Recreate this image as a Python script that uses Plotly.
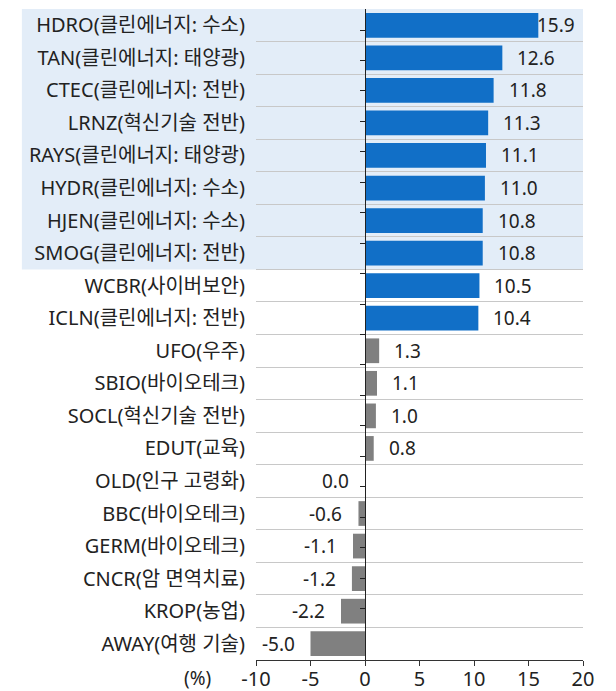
import plotly.graph_objects as go

# ETF (theme) and weekly return, top to bottom
labels = [
    "HDRO(클린에너지: 수소)",
    "TAN(클린에너지: 태양광)",
    "CTEC(클린에너지: 전반)",
    "LRNZ(혁신기술 전반)",
    "RAYS(클린에너지: 태양광)",
    "HYDR(클린에너지: 수소)",
    "HJEN(클린에너지: 수소)",
    "SMOG(클린에너지: 전반)",
    "WCBR(사이버보안)",
    "ICLN(클린에너지: 전반)",
    "UFO(우주)",
    "SBIO(바이오테크)",
    "SOCL(혁신기술 전반)",
    "EDUT(교육)",
    "OLD(인구 고령화)",
    "BBC(바이오테크)",
    "GERM(바이오테크)",
    "CNCR(암 면역치료)",
    "KROP(농업)",
    "AWAY(여행 기술)",
]
returns = [15.9, 12.6, 11.8, 11.3, 11.1, 11.0, 10.8, 10.8, 10.5, 10.4,
           1.3, 1.1, 1.0, 0.8, 0.0, -0.6, -1.1, -1.2, -2.2, -5.0]
x_ticks = [-10, -5, 0, 5, 10, 15, 20]

n_blue = 10        # top 10 bars in blue
n_highlight = 8    # clean-energy rows shaded

FONT = "Noto Sans, Noto Sans CJK KR"
BLUE = "#116FC7"
GRAY = "#808080"
SHADE = "#E3EDF8"
TEXT = "#222222"

x_range = [x_ticks[0], x_ticks[-1]]
zero_pos = (0 - x_range[0]) / (x_range[1] - x_range[0])

colors = [BLUE if i < n_blue else GRAY for i in range(len(labels))]

fig = go.Figure()
fig.add_trace(go.Bar(
    x=returns, y=labels, orientation="h",
    marker=dict(color=colors, line=dict(width=0)),
    width=0.76, hoverinfo="skip",
))
# invisible trace so the zero-line axis gets its categories
fig.add_trace(go.Scatter(
    x=[0] * len(labels), y=labels, yaxis="y2", mode="markers",
    marker=dict(opacity=0), hoverinfo="skip", showlegend=False,
))

annotations = []
for lab, v in zip(labels, returns):
    right = v > 0
    shift = 13
    # label near the right edge is pulled back in, as in the original
    if right and v + 4.2 > x_range[1]:
        shift = -3
    annotations.append(dict(
        x=v, y=lab, xref="x", yref="y", text=f"{v:.1f}", showarrow=False,
        xanchor="left" if right else "right", xshift=shift if right else -14,
        font=dict(family=FONT, size=19, color=TEXT),
    ))
annotations.append(dict(
    x=-0.18, y=0, xref="paper", yref="paper", text="(%)", showarrow=False,
    xanchor="center", yanchor="top", yshift=-3,
    font=dict(family=FONT, size=19, color=TEXT),
))

fig.update_layout(
    width=616, height=691,
    margin=dict(l=248, r=41, t=1, b=39),
    paper_bgcolor="white", plot_bgcolor="rgba(0,0,0,0)",
    showlegend=False, bargap=0.24,
    font=dict(family=FONT, size=19, color=TEXT),
    xaxis=dict(
        range=x_range, tickvals=x_ticks, ticktext=[str(t) for t in x_ticks],
        showgrid=False, zeroline=False, automargin=False,
        showline=True, linecolor="#333333", linewidth=1,
        ticks="outside", ticklen=5, tickcolor="#333333",
        ticklabelstandoff=-4,
        tickfont=dict(family=FONT, size=20, color=TEXT),
    ),
    yaxis=dict(
        categoryorder="array", categoryarray=labels, autorange="reversed",
        tickson="boundaries", ticks="", showgrid=True, automargin=False,
        gridcolor="#C8C8C8", gridwidth=1, showline=False, zeroline=False,
        ticklabelstandoff=10,
        tickfont=dict(family=FONT, size=20, color=TEXT),
    ),
    yaxis2=dict(
        overlaying="y", anchor="free", position=zero_pos,
        categoryorder="array", categoryarray=labels, autorange="reversed",
        tickson="boundaries", ticks="outside", ticklen=5, tickcolor="#222222",
        showticklabels=False, showgrid=False, zeroline=False, automargin=False,
        showline=True, linecolor="#222222", linewidth=1.2,
    ),
    shapes=[dict(
        type="rect", xref="paper", yref="y", layer="below",
        x0=-0.716, x1=1.0, y0=-0.5, y1=n_highlight - 0.5,
        fillcolor=SHADE, line=dict(width=0),
    )],
    annotations=annotations,
)

fig.write_html("out.html")
